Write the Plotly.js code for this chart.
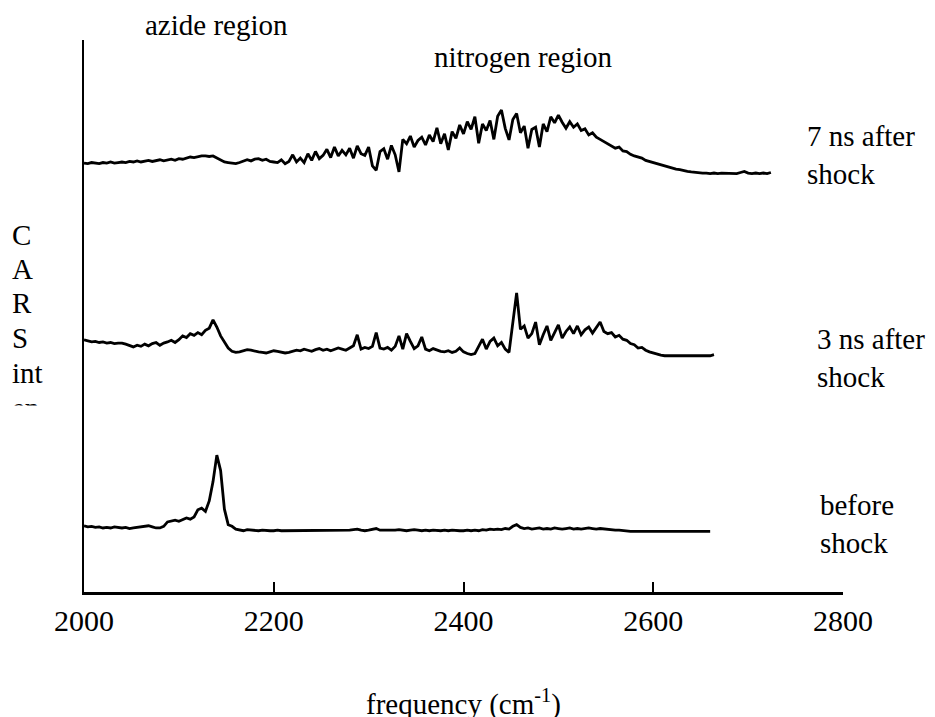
<!DOCTYPE html>
<html><head><meta charset="utf-8">
<script src="https://cdn.plot.ly/plotly-3.0.1.min.js"></script>
<style>html,body{margin:0;padding:0;background:#fff;}#chart{width:935px;height:717px;}</style>
</head><body><div id="chart"></div>
<script>
// frequency grid (cm^-1)
const FREQ_START = 2000;
const FREQ_STEP = 4;
const xTickVals = [2000, 2200, 2400, 2600, 2800];
const xTickText = ['2000', '2200', '2400', '2600', '2800'];
const seriesNames = ['7 ns after shock', '3 ns after shock', 'before shock'];

// CARS intensity (arbitrary units, vertically offset as in the figure)
const after7ns = [
  77.7,77.6,77.8,77.7,77.6,77.8,77.7,77.9,77.7,77.8,
  77.9,77.8,78.0,77.9,78.1,77.9,78.0,78.2,78.0,78.1,
  78.3,78.1,78.2,78.4,78.2,78.5,78.4,78.6,78.8,78.7,
  78.9,79.0,79.0,78.9,79.0,78.6,78.2,77.9,77.8,77.7,
  77.6,77.8,78.0,78.3,78.1,78.4,78.5,78.2,78.4,78.0,
  77.9,77.8,78.3,77.6,78.0,79.2,77.9,78.6,77.8,79.4,
  78.2,79.8,78.5,79.1,80.2,78.7,80.6,79.0,80.0,79.2,
  80.4,78.6,80.8,79.4,79.1,80.6,77.2,76.4,79.8,80.3,
  78.4,80.9,79.2,76.1,82.0,81.2,82.6,80.6,81.8,82.4,
  81.0,82.8,81.6,84.1,81.2,83.0,80.1,83.4,82.2,84.6,
  83.0,85.2,83.8,86.1,81.3,84.8,83.6,85.4,82.0,86.2,
  87.3,84.0,81.9,85.6,86.7,83.2,84.4,80.4,83.8,84.2,
  80.6,84.8,83.4,86.1,85.0,86.4,85.1,84.0,85.2,84.2,
  84.8,83.6,83.9,82.8,83.2,82.4,82.0,81.6,81.2,80.9,
  80.4,80.6,79.9,79.8,79.3,79.0,78.8,78.6,78.2,78.0,
  77.8,77.6,77.3,77.1,76.9,76.8,76.6,76.5,76.3,76.2,
  76.1,76.0,76.0,75.9,75.9,75.8,75.9,75.8,75.9,75.9,
  75.8,75.9,75.8,76.0,76.2,75.9,75.8,75.9,75.8,75.9,
  75.8,76.0
];
const after3ns = [
  45.7,45.5,45.3,45.4,45.2,45.3,45.1,45.2,45.0,45.1,
  45.1,44.9,44.6,44.4,44.7,44.5,44.9,44.6,45.0,45.2,
  44.7,45.1,45.3,45.6,45.2,45.7,46.4,46.1,46.8,46.5,
  47.0,46.6,47.4,47.8,49.3,48.0,46.4,45.2,44.2,43.6,
  43.4,43.5,43.7,43.9,43.8,43.6,43.5,43.4,43.3,43.5,
  43.7,43.6,43.5,43.3,43.4,43.6,43.8,43.7,44.0,43.8,
  43.6,43.9,44.1,43.8,44.0,43.7,43.9,44.2,44.0,43.8,
  44.2,44.6,46.6,44.0,44.3,44.1,44.5,47.0,44.2,44.0,
  44.3,43.8,44.5,46.4,44.0,46.8,45.4,44.1,44.6,46.2,
  44.0,43.7,44.1,43.8,43.6,43.5,43.7,43.4,43.6,44.2,
  43.5,43.2,43.0,43.2,44.6,45.8,44.0,45.4,46.0,44.6,
  45.2,44.0,43.4,49.0,54.2,47.6,48.2,46.0,46.8,48.9,
  44.8,46.6,48.2,45.6,47.0,48.4,46.0,47.2,48.0,46.8,
  48.2,46.6,47.5,48.0,46.9,47.8,48.9,47.2,46.8,47.0,
  46.2,46.5,45.8,45.6,45.0,44.8,44.2,44.3,43.8,43.5,
  43.3,43.0,42.9,42.8,42.8,42.9,42.8,42.8,42.9,42.8,
  42.8,42.9,42.8,42.8,42.9,42.8,43.0
];
const beforeShock = [
  12.0,11.8,11.9,11.7,11.8,11.6,11.7,11.6,11.8,11.7,
  11.6,11.7,11.5,11.6,11.7,11.8,11.9,12.0,11.8,11.6,
  11.6,11.9,12.7,12.9,13.0,12.8,13.1,13.4,13.2,13.6,
  14.9,15.2,14.6,16.5,20.0,24.8,22.0,15.0,12.2,11.9,
  11.4,11.2,11.1,11.3,11.2,11.1,11.1,11.2,11.1,11.1,
  11.1,11.2,11.1,11.1,11.2,11.1,11.1,11.2,11.1,11.1,
  11.2,11.1,11.1,11.2,11.1,11.2,11.1,11.1,11.2,11.1,
  11.2,11.3,11.4,11.2,11.1,11.2,11.3,11.5,11.2,11.2,
  11.1,11.2,11.2,11.3,11.2,11.1,11.2,11.3,11.2,11.1,
  11.2,11.1,11.2,11.1,11.1,11.2,11.1,11.2,11.1,11.1,
  11.1,11.2,11.1,11.2,11.1,11.3,11.2,11.4,11.3,11.4,
  11.3,11.5,11.4,11.9,12.2,11.7,11.5,11.6,11.4,11.5,
  11.6,11.4,11.5,11.4,11.6,11.5,11.4,11.5,11.6,11.4,
  11.5,11.4,11.5,11.6,11.5,11.4,11.5,11.4,11.3,11.3,
  11.2,11.2,11.1,11.1,11.0,11.0,11.0,11.0,11.0,11.0,
  11.0,11.0,11.0,11.0,11.0,11.0,11.0,11.0,11.0,11.0,
  11.0,11.0,11.0,11.0,11.0,11.0
];

function freqGrid(n) { const a = []; for (let i = 0; i < n; i++) a.push(FREQ_START + FREQ_STEP * i); return a; }

const seriesValues = [after7ns, after3ns, beforeShock];
const traces = seriesValues.map((v, k) => ({
  type: 'scatter', mode: 'lines', name: seriesNames[k],
  x: freqGrid(v.length), y: v,
  line: { color: '#000', width: 2.8 }, hoverinfo: 'skip'
}));

const W = 935, H = 717, ML = 84, MR = 92, MT = 40, MB = 125;
const PW = W - ML - MR, PH = H - MT - MB;
const px = x => (x - ML) / PW;
const py = y => (H - MB - y) / PH;
const FONT = 'Times New Roman, Liberation Serif, DejaVu Serif, serif';
function label(text, x, y, xanchor, size) {
  return { text, xref: 'paper', yref: 'paper', x: px(x), y: py(y), xanchor: xanchor || 'center', yanchor: 'middle',
    showarrow: false, align: 'left', font: { family: FONT, size: size || 29, color: '#000' } };
}
const annotations = [
  label('azide region', 216, 25),
  label('nitrogen region', 523, 57),
  label('7 ns after<br>shock', 805, 155, 'left'),
  label('3 ns after<br>shock', 815, 358, 'left'),
  label('before<br>shock', 818, 524, 'left'),
  label('C', 10, 235, 'left'),
  label('A', 10, 269, 'left'),
  label('R', 10, 303, 'left'),
  label('S', 10, 338, 'left'),
  label('int', 10, 373, 'left'),
  label('en', 10, 408, 'left'),
  { text: ' ', xref: 'paper', yref: 'paper', x: px(4), y: py(405), xanchor: 'left', yanchor: 'top',
    width: 60, height: 30, bgcolor: '#fff', showarrow: false, font: { size: 10 } },
  label('frequency (cm<sup>-1</sup>)', 463, 702)
];

const layout = {
  width: W, height: H, margin: { l: ML, r: MR, t: MT, b: MB },
  paper_bgcolor: '#fff', plot_bgcolor: '#fff', showlegend: false,
  font: { family: FONT, color: '#000' },
  xaxis: { range: [2000, 2800], tickvals: xTickVals, ticktext: xTickText, ticks: 'inside', ticklen: 10,
    tickwidth: 2, tickcolor: '#000', showline: true, linecolor: '#000', linewidth: 2.5, showgrid: false,
    zeroline: false, tickfont: { family: FONT, size: 30, color: '#000' }, fixedrange: true },
  yaxis: { range: [0, 100], showline: true, linecolor: '#000', linewidth: 2.5, ticks: '', showticklabels: false,
    showgrid: false, zeroline: false, fixedrange: true },
  annotations
};
Plotly.newPlot('chart', traces, layout, { displayModeBar: false, staticPlot: true });
</script></body></html>
